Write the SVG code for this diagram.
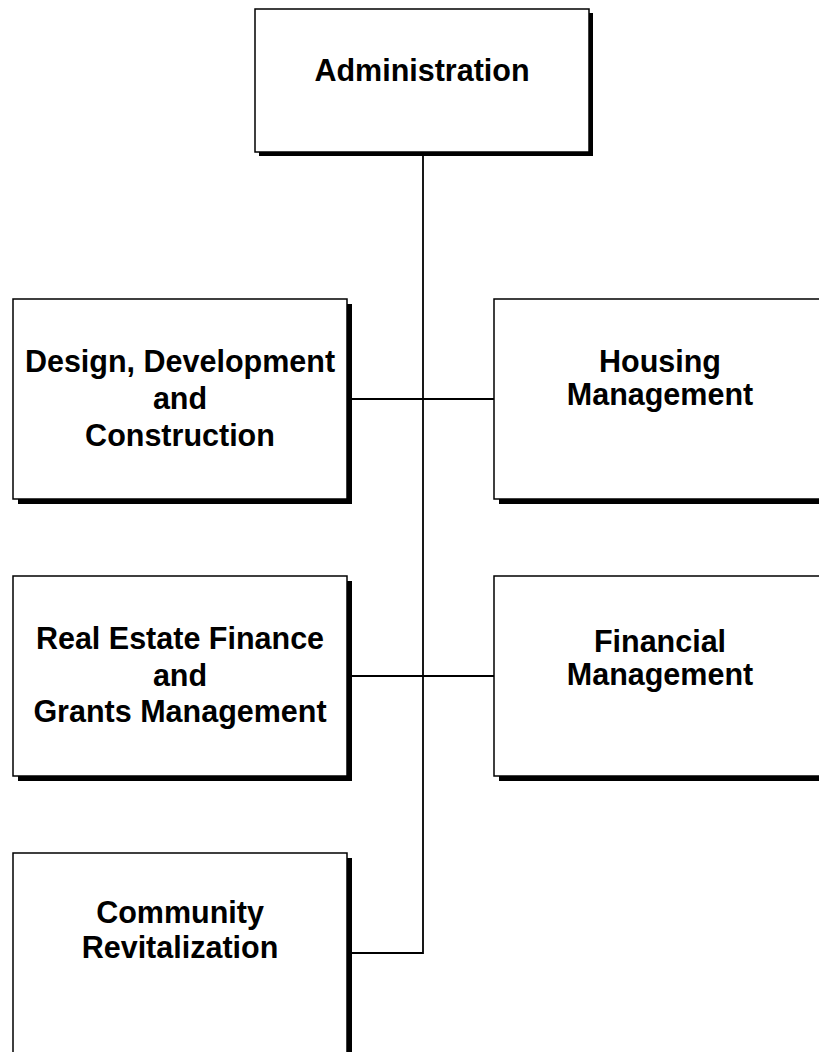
<svg xmlns="http://www.w3.org/2000/svg" width="819" height="1052" viewBox="0 0 819 1052">
<style>
.shadow{fill:#000;}
.box{fill:#fff;stroke:#000;stroke-width:1.5;}
.lbl{font-family:"Liberation Sans",Arial,sans-serif;font-weight:bold;font-size:30.5px;fill:#000;text-anchor:middle;}
.conn{fill:none;stroke:#000;stroke-width:1.8;}
</style>
<rect width="819" height="1052" fill="#fff"/>
<g id="connectors">
<path class="conn" d="M423,152 V953 H348"/>
<path class="conn" d="M347,399 H494"/>
<path class="conn" d="M347,676 H494"/>
</g>
<g id="administration">
<rect class="shadow" x="259" y="13" width="334" height="143"/>
<rect class="box" x="255" y="9" width="334" height="143"/>
<text class="lbl" x="422" y="81">Administration</text>
</g>
<g id="design">
<rect class="shadow" x="18" y="304" width="334" height="200"/>
<rect class="box" x="13" y="299" width="334" height="200"/>
<text class="lbl" x="180" y="372">Design, Development</text>
<text class="lbl" x="180" y="409">and</text>
<text class="lbl" x="180" y="446">Construction</text>
</g>
<g id="housing">
<rect class="shadow" x="499" y="304" width="334" height="200"/>
<rect class="box" x="494" y="299" width="334" height="200"/>
<text class="lbl" x="660" y="372">Housing</text>
<text class="lbl" x="660" y="405">Management</text>
</g>
<g id="realestate">
<rect class="shadow" x="18" y="581" width="334" height="200"/>
<rect class="box" x="13" y="576" width="334" height="200"/>
<text class="lbl" x="180" y="649">Real Estate Finance</text>
<text class="lbl" x="180" y="686">and</text>
<text class="lbl" x="180" y="722">Grants Management</text>
</g>
<g id="financial">
<rect class="shadow" x="499" y="581" width="334" height="200"/>
<rect class="box" x="494" y="576" width="334" height="200"/>
<text class="lbl" x="660" y="652">Financial</text>
<text class="lbl" x="660" y="685">Management</text>
</g>
<g id="community">
<rect class="shadow" x="18" y="858" width="334" height="200"/>
<rect class="box" x="13" y="853" width="334" height="200"/>
<text class="lbl" x="180" y="923">Community</text>
<text class="lbl" x="180" y="958">Revitalization</text>
</g>
</svg>
